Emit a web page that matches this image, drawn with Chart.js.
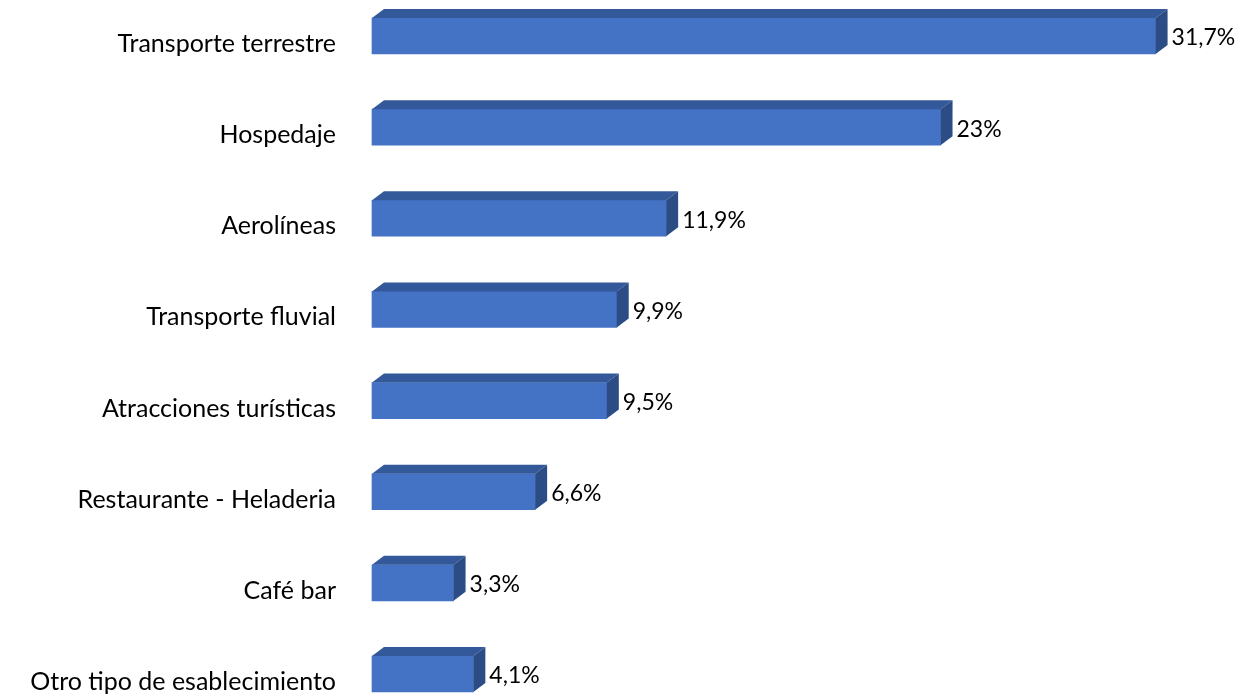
<!DOCTYPE html>
<html>
<head>
<meta charset="utf-8">
<script src="https://cdn.jsdelivr.net/npm/chart.js@4/dist/chart.umd.min.js"></script>
<style>
  html, body { margin: 0; padding: 0; background: #fff; }
  #chart { display: block; }
</style>
</head>
<body>
<canvas id="chart" width="1242" height="695"></canvas>
<script>
const categories = [
    'Transporte terrestre',
    'Hospedaje',
    'Aerolíneas',
    'Transporte fluvial',
    'Atracciones turísticas',
    'Restaurante - Heladeria',
    'Café bar',
    'Otro tipo de esablecimiento'
];
const values = [31.7, 23, 11.9, 9.9, 9.5, 6.6, 3.3, 4.1];
const valueLabels = ['31,7%', '23%', '11,9%', '9,9%', '9,5%', '6,6%', '3,3%', '4,1%'];

const FONT = 'Lato, "Open Sans", sans-serif';
const DEPTH_X = 12;
const DEPTH_Y = 9;

// draws the top and side faces of each bar, plus the value labels
const bar3d = {
    id: 'bar3d',
    afterDatasetsDraw(chart) {
        const ctx = chart.ctx;
        const meta = chart.getDatasetMeta(0);
        ctx.save();
        meta.data.forEach((bar, i) => {
            const top = bar.y - bar.height / 2;
            const bottom = bar.y + bar.height / 2;
            const x0 = bar.base;
            const x1 = bar.x;

            // top face
            ctx.fillStyle = '#34599a';
            ctx.beginPath();
            ctx.moveTo(x0, top);
            ctx.lineTo(x0 + DEPTH_X, top - DEPTH_Y);
            ctx.lineTo(x1 + DEPTH_X, top - DEPTH_Y);
            ctx.lineTo(x1, top);
            ctx.closePath();
            ctx.fill();

            // side face
            ctx.fillStyle = '#2c4c86';
            ctx.beginPath();
            ctx.moveTo(x1, top);
            ctx.lineTo(x1 + DEPTH_X, top - DEPTH_Y);
            ctx.lineTo(x1 + DEPTH_X, bottom - DEPTH_Y);
            ctx.lineTo(x1, bottom);
            ctx.closePath();
            ctx.fill();

            // value label
            ctx.fillStyle = '#000';
            ctx.font = '23px ' + FONT;
            ctx.textAlign = 'left';
            ctx.textBaseline = 'middle';
            ctx.fillText(valueLabels[i], x1 + DEPTH_X + 4, bar.y + 2);
        });
        ctx.restore();
    }
};

new Chart(document.getElementById('chart'), {
    type: 'bar',
    data: {
        labels: categories,
        datasets: [{
            data: values,
            backgroundColor: '#4472c4',
            borderWidth: 0,
            barThickness: 36,
            clip: false
        }]
    },
    options: {
        indexAxis: 'y',
        responsive: false,
        animation: false,
        layout: {
            padding: { top: 36, bottom: 21, left: 0, right: 79 }
        },
        plugins: {
            legend: { display: false },
            tooltip: { enabled: false }
        },
        scales: {
            x: {
                display: false,
                min: 0,
                max: 32
            },
            y: {
                offset: false,
                grid: { display: false, drawTicks: false },
                border: { display: false },
                afterFit: (scale) => {
                    // fixed width, and no extra room for the edge labels
                    scale.width = 372;
                    scale.paddingTop = 0;
                    scale.paddingBottom = 0;
                },
                ticks: {
                    autoSkip: false,
                    padding: 36,
                    labelOffset: 8,
                    color: '#000',
                    font: { family: FONT, size: 25 }
                }
            }
        }
    },
    plugins: [bar3d]
});
</script>
</body>
</html>
